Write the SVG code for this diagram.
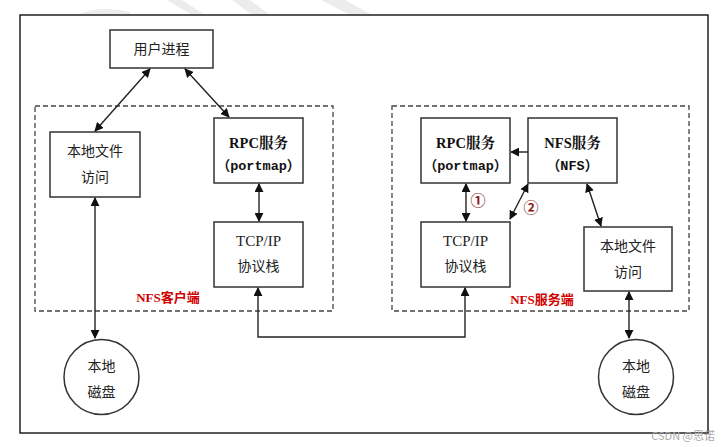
<svg xmlns="http://www.w3.org/2000/svg" width="725" height="447" viewBox="0 0 725 447">
<defs>
<marker id="ah" viewBox="0 0 10 10" refX="9" refY="5" markerWidth="9" markerHeight="9" markerUnits="userSpaceOnUse" orient="auto-start-reverse">
<path d="M0,0 L10,5 L0,10 z" fill="#111"/>
</marker>
<style>
.box{fill:#fff;stroke:#333;stroke-width:1.5}
.dash{fill:none;stroke:#444;stroke-width:1.3;stroke-dasharray:5,3}
.ln{fill:none;stroke:#222;stroke-width:1.4}
.cn{font-family:"Noto Sans CJK SC","Noto Sans",sans-serif;font-size:14px;fill:#222;text-anchor:middle}
.bd{font-family:"Liberation Serif","Noto Serif CJK SC","Noto Sans CJK SC",serif;font-weight:bold;font-size:14.5px;fill:#111;text-anchor:middle}
.mono{font-family:"Liberation Mono","Noto Sans CJK SC",monospace;font-weight:bold;font-size:13.5px;fill:#111;text-anchor:middle}
.ser{font-family:"Liberation Serif",serif;font-size:15px;fill:#222;text-anchor:middle}
.red{font-family:"Liberation Serif","Noto Sans CJK SC",serif;font-weight:bold;font-size:13px;fill:#d00000;text-anchor:middle}
.num{font-family:"Noto Sans CJK SC","DejaVu Sans",sans-serif;font-size:15px;fill:#8b1a1a;text-anchor:middle;font-weight:bold}
</style>
</defs>
<rect width="725" height="447" fill="#fff"/>
<g id="watermark-bg" fill="#ececec">
<path d="M77,15 Q100,5 130,12 L130,15 z"/>
<polygon points="167,0 182,0 205,15 192,15"/>
<polygon points="232,0 250,0 270,15 252,15"/>
<polygon points="321,0 345,0 372,15 350,15"/>
</g>
<rect id="frame" x="20" y="15" width="688" height="418" fill="none" stroke="#222" stroke-width="1.5"/>
<g id="client-region">
<rect class="dash" x="35" y="106" width="298" height="205"/>
<text class="red" x="168" y="302">NFS客户端</text>
</g>
<g id="server-region">
<rect class="dash" x="392" y="106" width="297" height="205"/>
<text class="red" x="542" y="304">NFS服务端</text>
</g>
<g id="user-process">
<rect class="box" x="110" y="30" width="103" height="38"/>
<text class="cn" x="161.5" y="54">用户进程</text>
</g>
<g id="client-local-file">
<rect class="box" x="50" y="132" width="90" height="65"/>
<text class="cn" x="95" y="156">本地文件</text>
<text class="cn" x="95" y="182">访问</text>
</g>
<g id="client-rpc">
<rect class="box" x="214" y="118" width="89" height="65"/>
<text class="bd" x="258.5" y="148">RPC服务</text>
<text class="mono" x="258.5" y="170">（portmap）</text>
</g>
<g id="client-tcp">
<rect class="box" x="214" y="222" width="89" height="65"/>
<text class="ser" x="258.5" y="246">TCP/IP</text>
<text class="cn" x="258.5" y="271">协议栈</text>
</g>
<g id="client-disk">
<circle class="box" cx="101.5" cy="377" r="37.5"/>
<text class="cn" x="101.5" y="371">本地</text>
<text class="cn" x="101.5" y="397">磁盘</text>
</g>
<g id="server-rpc">
<rect class="box" x="421" y="118" width="89" height="65"/>
<text class="bd" x="465.5" y="148">RPC服务</text>
<text class="mono" x="465.5" y="170">（portmap）</text>
</g>
<g id="server-nfs">
<rect class="box" x="528" y="118" width="89" height="65"/>
<text class="bd" x="572.5" y="148">NFS服务</text>
<text class="mono" x="572.5" y="170">（NFS）</text>
</g>
<g id="server-tcp">
<rect class="box" x="421" y="222" width="89" height="65"/>
<text class="ser" x="465.5" y="246">TCP/IP</text>
<text class="cn" x="465.5" y="271">协议栈</text>
</g>
<g id="server-local-file">
<rect class="box" x="584" y="227" width="88" height="64"/>
<text class="cn" x="628" y="251">本地文件</text>
<text class="cn" x="628" y="277">访问</text>
</g>
<g id="server-disk">
<circle class="box" cx="636" cy="377" r="37.5"/>
<text class="cn" x="636" y="371">本地</text>
<text class="cn" x="636" y="397">磁盘</text>
</g>
<g id="connectors">
<line class="ln" x1="150" y1="69" x2="95" y2="131" marker-start="url(#ah)" marker-end="url(#ah)"/>
<line class="ln" x1="185" y1="69" x2="229" y2="117" marker-start="url(#ah)" marker-end="url(#ah)"/>
<line class="ln" x1="259" y1="184" x2="259" y2="221" marker-start="url(#ah)" marker-end="url(#ah)"/>
<line class="ln" x1="95" y1="198" x2="95" y2="338" marker-start="url(#ah)" marker-end="url(#ah)"/>
<polyline class="ln" points="258,288 258,337 465,337 465,288" marker-start="url(#ah)" marker-end="url(#ah)"/>
<line class="ln" x1="528" y1="152" x2="511" y2="152" marker-end="url(#ah)"/>
<line class="ln" x1="466" y1="184" x2="466" y2="221" marker-start="url(#ah)" marker-end="url(#ah)"/>
<line class="ln" x1="528" y1="184" x2="510" y2="219" marker-start="url(#ah)" marker-end="url(#ah)"/>
<line class="ln" x1="587" y1="184" x2="601" y2="226" marker-start="url(#ah)" marker-end="url(#ah)"/>
<line class="ln" x1="629" y1="292" x2="629" y2="338" marker-start="url(#ah)" marker-end="url(#ah)"/>
</g>
<g id="step-labels">
<text class="num" x="478" y="206">①</text>
<text class="num" x="531" y="213">②</text>
</g>
<text x="715" y="440" font-family="Noto Sans CJK SC,sans-serif" font-size="11" fill="#aaa" text-anchor="end">CSDN @思诺</text>
</svg>
